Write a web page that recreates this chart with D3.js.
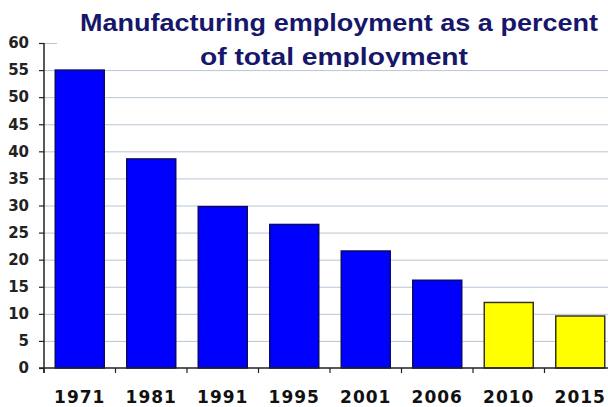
<!DOCTYPE html>
<html>
<head>
<meta charset="utf-8">
<script src="https://cdn.jsdelivr.net/npm/d3@7"></script>
<style>
  body { margin: 0; background: #fff; }
  svg { display: block; }
</style>
</head>
<body>
<svg id="canvas" width="608" height="407"></svg>
<script>
let years = ['1971', '1981', '1991', '1995', '2001', '2006', '2010', '2015'];
let shares = [55, 38.6, 29.8, 26.5, 21.6, 16.2, 12.1, 9.6];
let projectedYears = ['2010', '2015'];
let yTicks = [0, 5, 10, 15, 20, 25, 30, 35, 40, 45, 50, 55, 60];
let titleLines = ['Manufacturing employment as a percent', 'of total employment'];

let canvas = d3.select('#canvas');

let data = years.map((year, i) => {
	return { year: year, value: shares[i] };
});

let xScale = d3
	.scaleBand()
	.domain(years)
	.range([44, 616])
	.paddingInner(0.315)
	.paddingOuter(0.1575);

let yScale = d3.scaleLinear().domain([0, 60]).range([368, 43]);

// gridlines
canvas
	.append('g')
	.selectAll('line')
	.data(yTicks.filter((t) => t > 0))
	.enter()
	.append('line')
	.attr('x1', 44)
	.attr('x2', 608)
	.attr('y1', (t) => yScale(t) + 0.5)
	.attr('y2', (t) => yScale(t) + 0.5)
	.attr('stroke', '#b8c6d4')
	.attr('stroke-width', 1);

// bars
canvas
	.append('g')
	.selectAll('rect')
	.data(data)
	.enter()
	.append('rect')
	.attr('x', (d) => xScale(d.year))
	.attr('y', (d) => yScale(d.value))
	.attr('width', xScale.bandwidth())
	.attr('height', (d) => yScale(0) - yScale(d.value))
	.attr('fill', (d) => (projectedYears.includes(d.year) ? '#ffff00' : '#0000ff'))
	.attr('stroke', (d) => (projectedYears.includes(d.year) ? '#3a3320' : '#0a0a6a'))
	.attr('stroke-width', 1.5);

// y axis
let yAxis = d3
	.axisLeft(yScale)
	.tickValues(yTicks)
	.tickSize(5)
	.tickPadding(15)
	.tickFormat(d3.format('d'));

let yAxisGroup = canvas.append('g').attr('transform', 'translate(44,0)').call(yAxis);
yAxisGroup.select('.domain').remove();
yAxisGroup.append('line').attr('x1', 0).attr('x2', 0).attr('y1', yScale(60)).attr('y2', 373).attr('stroke', '#222').attr('stroke-width', 1.5);
yAxisGroup.selectAll('.tick line').attr('stroke', '#222').attr('stroke-width', 1.2);
yAxisGroup
	.selectAll('.tick text')
	.attr('x', -15)
	.attr('font-family', 'DejaVu Sans')
	.attr('font-weight', 'bold')
	.attr('font-size', 15)
	.attr('fill', '#222');

// x axis
let xAxisGroup = canvas.append('g').attr('transform', 'translate(0,368)');
xAxisGroup
	.append('line')
	.attr('x1', 39)
	.attr('x2', 608)
	.attr('y1', 0)
	.attr('y2', 0)
	.attr('stroke', '#222')
	.attr('stroke-width', 1.5);

xAxisGroup
	.selectAll('line.tick')
	.data(years)
	.enter()
	.append('line')
	.attr('class', 'tick')
	.attr('x1', (y) => xScale(y) - xScale.step() * 0.1575)
	.attr('x2', (y) => xScale(y) - xScale.step() * 0.1575)
	.attr('y1', 0)
	.attr('y2', 5)
	.attr('stroke', '#222')
	.attr('stroke-width', 1.2);

xAxisGroup
	.selectAll('text')
	.data(years)
	.enter()
	.append('text')
	.text((y) => y)
	.attr('x', (y) => xScale(y) + xScale.bandwidth() / 2)
	.attr('y', 35)
	.attr('text-anchor', 'middle')
	.attr('font-family', 'DejaVu Sans')
	.attr('font-weight', 'bold')
	.attr('font-size', 17)
	.attr('letter-spacing', 1)
	.attr('fill', '#111');

// title box (covers the top gridline, clips descenders)
canvas.append('clipPath').attr('id', 'titleClip').append('rect').attr('x', 57).attr('y', 0).attr('width', 551).attr('height', 67);
canvas.append('rect').attr('x', 57).attr('y', 0).attr('width', 551).attr('height', 67).attr('fill', '#fff');

let titleGroup = canvas.append('g').attr('clip-path', 'url(#titleClip)');
titleGroup
	.selectAll('text')
	.data(titleLines)
	.enter()
	.append('text')
	.text((t) => t)
	.attr('x', (t, i) => (i === 0 ? 339 : 334))
	.attr('y', (t, i) => (i === 0 ? 31 : 65))
	.attr('text-anchor', 'middle')
	.attr('textLength', (t, i) => (i === 0 ? 518 : 268))
	.attr('lengthAdjust', 'spacingAndGlyphs')
	.attr('font-family', 'Liberation Sans')
	.attr('font-weight', 'bold')
	.attr('font-size', 24)
	.attr('fill', '#16166a');
</script>
</body>
</html>
